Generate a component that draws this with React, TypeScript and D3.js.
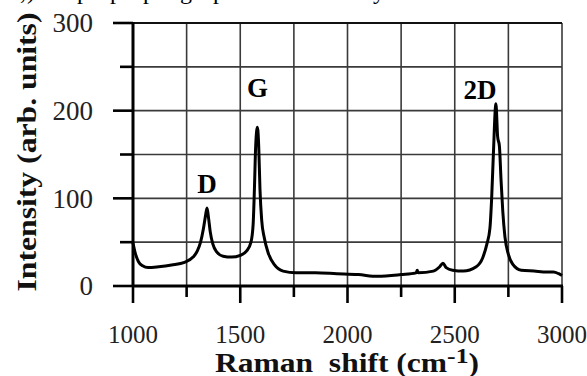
import React from "react";
import * as d3 from "d3";

const ramanShift = [1000,1010,1025,1045,1070,1120,1180,1240,1280,1300,1315,1328,1338,1345,1352,1360,1372,1390,1420,1460,1500,1530,1550,1560,1566,1572,1580,1586,1592,1600,1612,1630,1660,1700,1760,1850,1950,2050,2140,2250,2320,2325,2330,2400,2430,2445,2460,2490,2540,2600,2630,2650,2664,2672,2680,2692,2700,2708,2716,2724,2734,2750,2770,2810,2870,2930,2960,2985,3000];
const intensity = [49,38,28,23,21,22,24,27,33,40,50,65,80,89,78,62,48,39,34,33,35,40,50,70,110,160,181,160,110,75,55,38,24,17,15,15,14,13,11,13,15,18,15,17,22,26,21,18,17,22,32,48,66,100,150,208,170,160,120,85,56,36,25,18,17,16,16,14,12];

const xMajorTicks = [1000, 1500, 2000, 2500, 3000];
const xMinorTicks = [1250, 1750, 2250, 2750];
const yMajorTicks = [0, 100, 200, 300];
const yMinorTicks = [50, 150, 250];
const peakLabels = ["D", "G", "2D"];
const peakPositions = [1345, 1580, 2692];
const peakHeights = [89, 181, 208];
const topGlyphs = [",", ")", "p", "p", "p", "g", "p", "y"];
const topGlyphX = [20, 27, 77, 110, 143, 180, 213, 373];

export default function App() {
  const W = 587, H = 376;
  const x = d3.scaleLinear().domain([1000, 3000]).range([133, 562]);
  const y = d3.scaleLinear().domain([0, 300]).range([286, 23]);
  const pts = ramanShift.map((v, i) => [v, intensity[i]] as [number, number]);
  const line = d3.line<[number, number]>().x(d => x(d[0])).y(d => y(d[1])).curve(d3.curveMonotoneX);
  const gridX = d3.range(1250, 3001, 250);
  const gridY = d3.range(50, 301, 50);
  const serif = "'Liberation Serif', 'Times New Roman', serif";
  const labelDx = [0, 0, -16];
  const labelDy = [-15, -30, -5];
  return (
    <svg width={W} height={H} style={{ position: "absolute", left: 0, top: 0, background: "#fff" }}>
      <rect x={0} y={0} width={W} height={H} fill="#fff" />
      {topGlyphs.map((g, i) => (
        <text key={"tg" + i} x={topGlyphX[i]} y={-1.5} fontFamily={serif} fontSize={24} fill="#000">{g}</text>
      ))}
      {gridX.map(v => (
        <line key={"gx" + v} x1={x(v)} x2={x(v)} y1={y(0)} y2={y(300)} stroke="#3a3a3a" strokeWidth={1.6} />
      ))}
      {gridY.map(v => (
        <line key={"gy" + v} x1={x(1000)} x2={x(3000)} y1={y(v)} y2={y(v)} stroke="#3a3a3a" strokeWidth={1.6} />
      ))}
      <line x1={x(1000)} x2={x(3000)} y1={y(300)} y2={y(300)} stroke="#111" strokeWidth={2} />
      <line x1={x(1000)} x2={x(1000)} y1={y(0) + 1} y2={y(300) - 1} stroke="#000" strokeWidth={3} />
      <line x1={x(1000) - 1} x2={x(3000) + 1} y1={y(0)} y2={y(0)} stroke="#000" strokeWidth={3.2} />
      {yMajorTicks.map(v => (
        <line key={"ym" + v} x1={113} x2={x(1000)} y1={y(v)} y2={y(v)} stroke="#000" strokeWidth={2.6} />
      ))}
      {yMinorTicks.map(v => (
        <line key={"yn" + v} x1={120} x2={x(1000)} y1={y(v)} y2={y(v)} stroke="#000" strokeWidth={2.6} />
      ))}
      {xMajorTicks.map(v => (
        <line key={"xm" + v} x1={x(v)} x2={x(v)} y1={y(0)} y2={303} stroke="#000" strokeWidth={2.6} />
      ))}
      {xMinorTicks.map(v => (
        <line key={"xn" + v} x1={x(v)} x2={x(v)} y1={y(0)} y2={297} stroke="#000" strokeWidth={2.6} />
      ))}
      {yMajorTicks.map(v => (
        <text key={"yl" + v} x={93} y={y(v)} dy="0.34em" textAnchor="end" fontFamily={serif} fontSize={27} fill="#222">{v}</text>
      ))}
      {xMajorTicks.map(v => (
        <text key={"xl" + v} x={x(v)} y={343} textAnchor="middle" fontFamily={serif} fontSize={25} fill="#222">{v}</text>
      ))}
      <path d={line(pts) || ""} fill="none" stroke="#000" strokeWidth={3} strokeLinejoin="round" />
      {peakLabels.map((l, i) => (
        <text key={"pk" + l} x={x(peakPositions[i]) + labelDx[i]} y={y(peakHeights[i]) + labelDy[i]} textAnchor="middle" fontFamily={serif} fontWeight="bold" fontSize={27} fill="#000">{l}</text>
      ))}
      <text x={347} y={372} textAnchor="middle" fontFamily={serif} fontWeight="bold" fontSize={27} fill="#111" style={{ whiteSpace: "pre" }} textLength={264} lengthAdjust="spacingAndGlyphs">
        {"Raman  shift (cm"}<tspan dy={-9} fontSize={22}>{"-1"}</tspan><tspan dy={9}>{")"}</tspan>
      </text>
      <text transform={`translate(36,152) rotate(-90)`} textAnchor="middle" fontFamily={serif} fontWeight="bold" fontSize={28} fill="#111" textLength={279} lengthAdjust="spacingAndGlyphs">Intensity (arb. units)</text>
    </svg>
  );
}
